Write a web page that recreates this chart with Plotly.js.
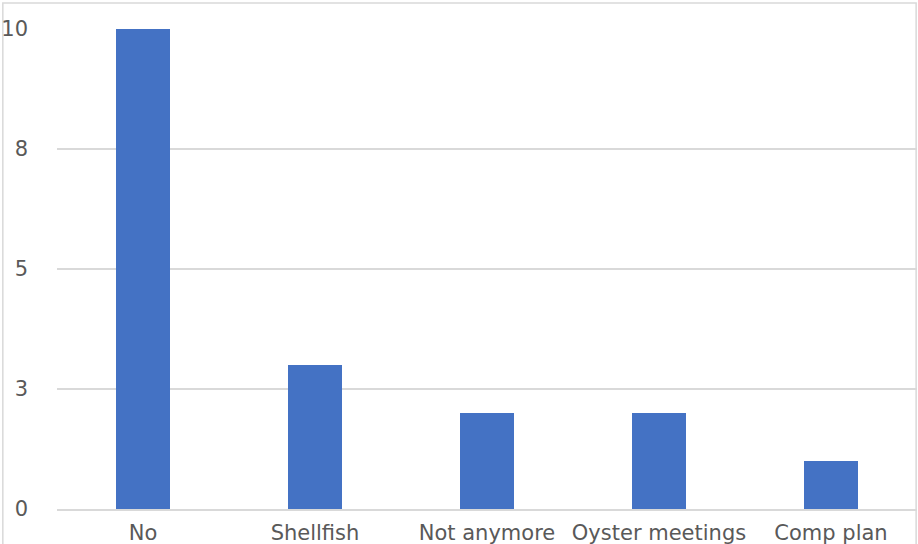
<!DOCTYPE html>
<html>
<head>
<meta charset="utf-8">
<script src="https://cdn.plot.ly/plotly-3.0.1.min.js"></script>
<style>html,body{margin:0;padding:0;background:#fff;}#chart{width:918px;height:544px;}</style>
</head>
<body>
<div id="chart"></div>
<script>
const categories = ["No", "Shellfish", "Not anymore", "Oyster meetings", "Comp plan"];
const counts = [10, 3, 2, 2, 1];
const yTickVals = [0, 2.5, 5, 7.5, 10];
const yTickText = ["0", "3", "5", "8", "10"];

const trace = {
  type: "bar",
  x: categories,
  y: counts,
  marker: {color: "#4472C4"},
  width: 0.314,
  hoverinfo: "x+y"
};

const grey = "#d9d9d9";
const txt = "#595959";
const layout = {
  width: 918,
  height: 544,
  margin: {l: 57, r: 1, t: 29, b: 35},
  paper_bgcolor: "#fff",
  plot_bgcolor: "#fff",
  showlegend: false,
  font: {family: "DejaVu Sans, sans-serif", size: 21, color: txt},
  xaxis: {
    type: "category",
    showgrid: false,
    showline: true,
    linecolor: grey,
    linewidth: 1.5,
    ticks: "",
    tickfont: {size: 21, color: txt},
    ticklabelstandoff: 4
  },
  yaxis: {
    range: [0, 10],
    tickvals: yTickVals,
    ticktext: yTickText,
    showgrid: true,
    gridcolor: grey,
    gridwidth: 1.5,
    zeroline: false,
    showline: false,
    ticks: "",
    ticklabelstandoff: 28,
    tickfont: {size: 21, color: txt}
  },
  shapes: [
    {type: "rect", xref: "paper", yref: "paper", x0: -0.063, x1: 0.999, y0: -0.08, y1: 1.054,
     line: {color: grey, width: 1.5}, fillcolor: "rgba(0,0,0,0)", layer: "below"}
  ]
};

Plotly.newPlot("chart", [trace], layout, {displayModeBar: false, staticPlot: true});
</script>
</body>
</html>
